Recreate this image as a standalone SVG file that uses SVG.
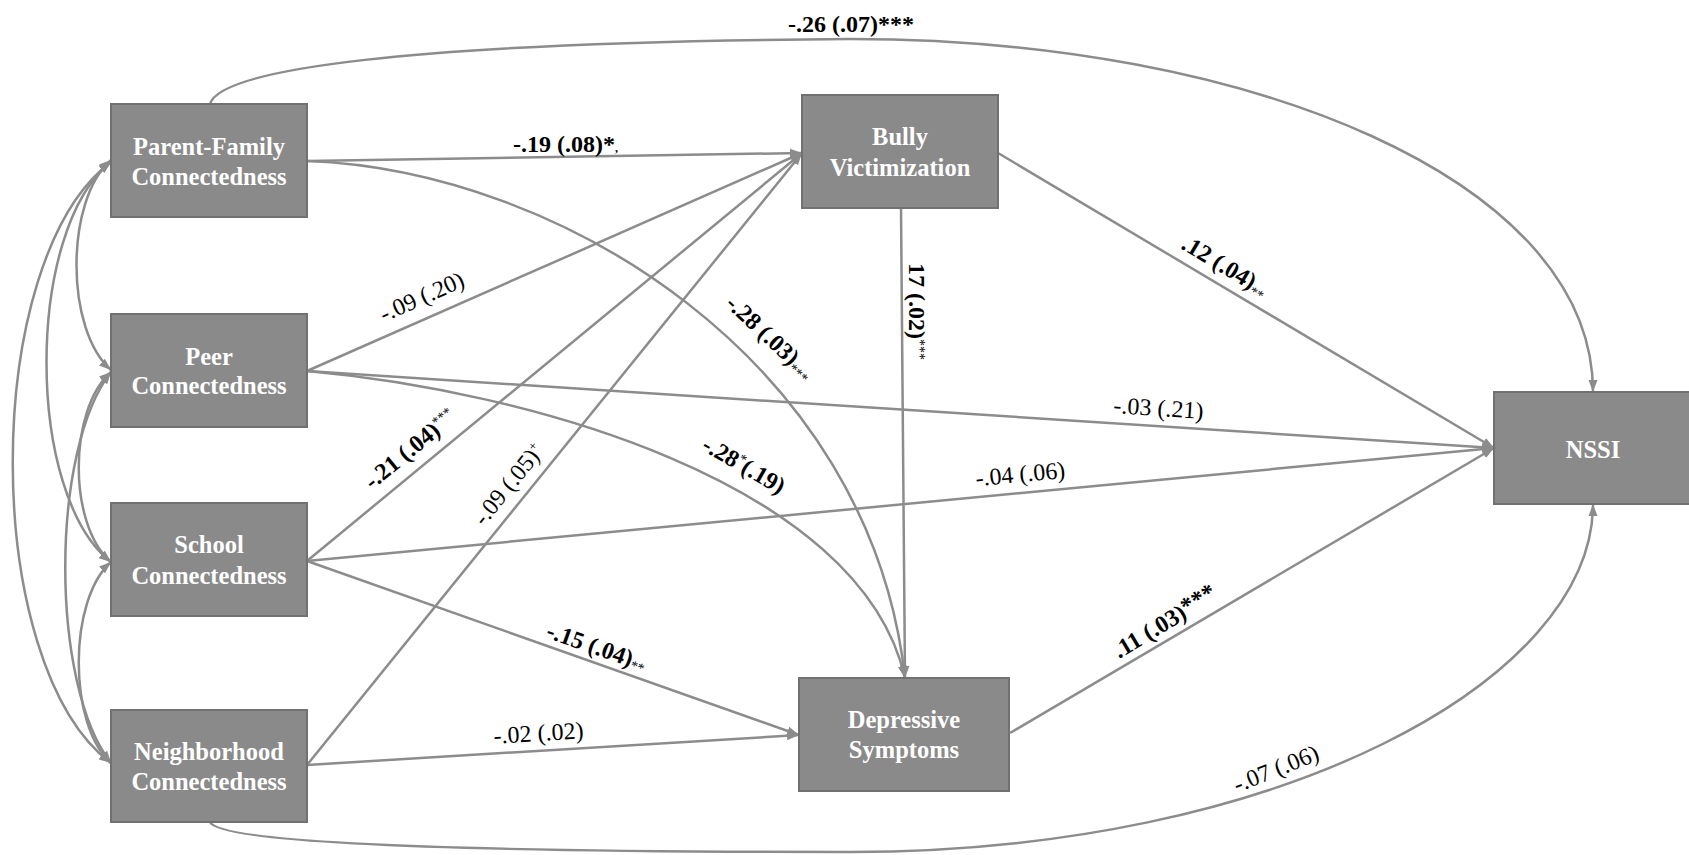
<svg xmlns="http://www.w3.org/2000/svg" width="1689" height="855" viewBox="0 0 1689 855">
<style>
.box{fill:#8a8a8a;stroke:#717171;stroke-width:2}
.nt{font-family:"Liberation Serif","Times New Roman",serif;font-weight:bold;font-size:24.5px;fill:#ffffff;text-anchor:middle}
.c{fill:none;stroke:#8c8c8c;stroke-width:2.5}
.a{marker-end:url(#ah)}
.d{marker-start:url(#ah);marker-end:url(#ah)}
.lb{font-family:"Liberation Serif","Times New Roman",serif;font-size:24px;fill:#000000}
.b{font-weight:bold}
.sm{font-size:14px;font-weight:normal}
</style>
<defs>
<marker id="ah" viewBox="0 0 12 10" refX="12" refY="5" markerWidth="12" markerHeight="10" markerUnits="userSpaceOnUse" orient="auto-start-reverse">
<path d="M0,0.5 L12,5 L0,9.5 z" fill="#8c8c8c"/>
</marker>
</defs>
<rect width="1689" height="855" fill="#ffffff"/>
<g id="connectors">
<!-- covariances -->
<path class="c d" d="M111,160 C65,200 65,330 111,370"/>
<path class="c d" d="M111,162 C25,230 25,495 111,562"/>
<path class="c d" d="M111,162 C-20,260 -20,665 111,763"/>
<path class="c d" d="M111,372 C68,410 68,525 111,562"/>
<path class="c d" d="M111,372 C50,450 50,685 111,763"/>
<path class="c d" d="M111,562 C68,600 68,725 111,763"/>
<!-- to bully -->
<path class="c a" d="M307,161 L802,153"/>
<path class="c a" d="M307,371 L802,153"/>
<path class="c a" d="M307,561 L802,153"/>
<path class="c a" d="M307,765 L802,153"/>
<!-- to depressive -->
<path class="c a" d="M307,161 C560,170 870,360 905,678"/>
<path class="c a" d="M307,371 C520,390 860,480 905,678"/>
<path class="c a" d="M901,208 L905,678"/>
<path class="c a" d="M307,561 L799,735"/>
<path class="c a" d="M307,765 L799,735"/>
<!-- to NSSI -->
<path class="c a" d="M307,371 L1494,448"/>
<path class="c a" d="M307,561 L1494,448"/>
<path class="c a" d="M998,153 L1494,448"/>
<path class="c a" d="M1010,733 L1494,448"/>
<path class="c a" d="M210,104 C220,70 400,42 850,39 C1250,39 1593,180 1593,392"/>
<path class="c a" d="M210,822 C220,845 500,852 850,852 C1280,852 1593,680 1593,504"/>
</g>
<g id="labels">
<text class="lb b" x="851" y="32" text-anchor="middle">-.26 (.07)***</text>
<text class="lb b" x="513" y="152" font-size="22">-.19 (.08)*<tspan font-size="12">,</tspan></text>
<text class="lb" transform="translate(765,343) rotate(43)" text-anchor="middle"><tspan class="b">-.28 (.03)</tspan><tspan class="sm" dy="4">***</tspan></text>
<text class="lb" transform="translate(425,304) rotate(-24)" text-anchor="middle">-.09 (.20)</text>
<text class="lb" transform="translate(1158,416) rotate(3.7)" text-anchor="middle">-.03 (.21)</text>
<text class="lb b" transform="translate(740,472) rotate(30)" text-anchor="middle">-.28<tspan class="sm" dy="-8">*</tspan><tspan dy="8">(.19)</tspan></text>
<text class="lb" transform="translate(415,455) rotate(-39.4)" text-anchor="middle"><tspan class="b">-.21 (.04)</tspan><tspan class="sm" dy="-8">***</tspan></text>
<text class="lb" transform="translate(1021,482) rotate(-5.4)" text-anchor="middle">-.04 (.06)</text>
<text class="lb" transform="translate(545,637) rotate(19.5)"><tspan class="b">-.15 (.04)</tspan><tspan class="sm" dy="2">**</tspan></text>
<text class="lb" transform="translate(484,527) rotate(-51)">-.09 (.05)<tspan font-size="13" dy="-9">+</tspan></text>
<text class="lb" transform="translate(539,741) rotate(-3.5)" text-anchor="middle">-.02 (.02)</text>
<text class="lb" transform="translate(1279,776) rotate(-22)" text-anchor="middle">-.07 (.06)</text>
<text class="lb" transform="translate(1180,248) rotate(31)"><tspan class="b">.12 (.04)</tspan><tspan class="sm" dy="4">**</tspan></text>
<text class="lb b" transform="translate(1169,629) rotate(-31)" text-anchor="middle">.11 (.03)<tspan dy="-3">***</tspan></text>
<text class="lb" transform="translate(909,263) rotate(90)"><tspan class="b">17 (.02)</tspan><tspan class="sm" dy="-6">***</tspan></text>
</g>
<g id="node-parent-family">
<rect class="box" x="111" y="104" width="196" height="113"/>
<text class="nt" x="209" y="155">Parent-Family</text>
<text class="nt" x="209" y="185">Connectedness</text>
</g>
<g id="node-peer">
<rect class="box" x="111" y="314" width="196" height="113"/>
<text class="nt" x="209" y="365">Peer</text>
<text class="nt" x="209" y="394">Connectedness</text>
</g>
<g id="node-school">
<rect class="box" x="111" y="503" width="196" height="113"/>
<text class="nt" x="209" y="553">School</text>
<text class="nt" x="209" y="584">Connectedness</text>
</g>
<g id="node-neighborhood">
<rect class="box" x="111" y="710" width="196" height="112"/>
<text class="nt" x="209" y="760">Neighborhood</text>
<text class="nt" x="209" y="790">Connectedness</text>
</g>
<g id="node-bully">
<rect class="box" x="802" y="95" width="196" height="113"/>
<text class="nt" x="900" y="145">Bully</text>
<text class="nt" x="900" y="176">Victimization</text>
</g>
<g id="node-depressive">
<rect class="box" x="799" y="678" width="210" height="113"/>
<text class="nt" x="904" y="728">Depressive</text>
<text class="nt" x="904" y="758">Symptoms</text>
</g>
<g id="node-nssi">
<rect class="box" x="1494" y="392" width="198" height="112"/>
<text class="nt" x="1593" y="458">NSSI</text>
</g>
</svg>
